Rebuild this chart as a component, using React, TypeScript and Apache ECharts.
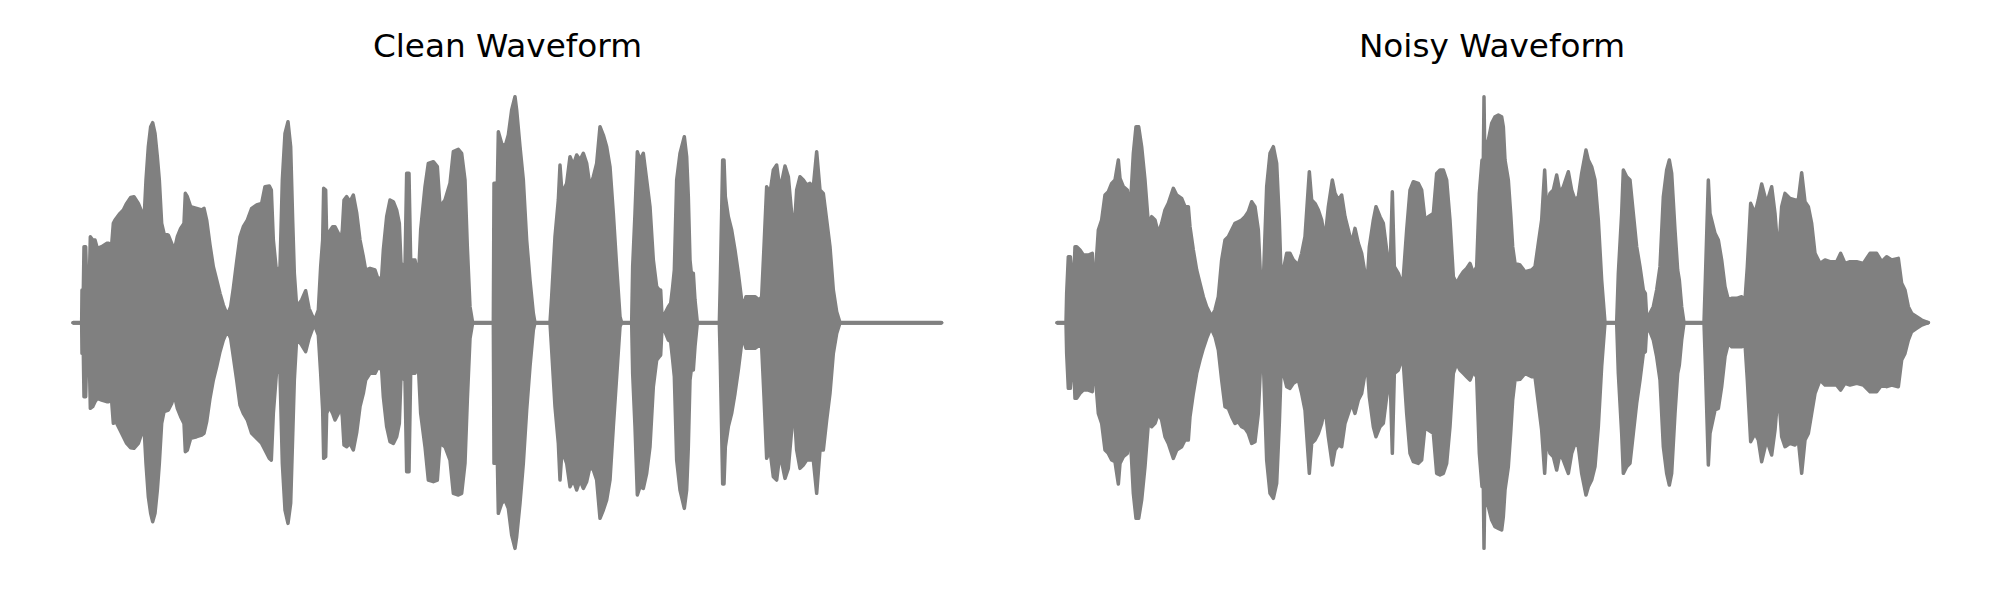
import React, { useEffect, useRef } from "react";
import * as echarts from "echarts";

// Time axis in ms, amplitude in arbitrary units (envelope)
const cleanTime = [
  0, 26, 27, 31, 33, 38, 41, 49, 52, 59,
  66, 73, 86, 101, 107, 109, 112, 121, 126, 141,
  151, 161, 173, 183, 196, 206, 213, 219, 226, 233,
  239, 246, 253, 259, 266, 273, 286, 296, 304, 313,
  323, 333, 337, 343, 353, 371, 386, 393, 401, 411,
  421, 431, 441, 451, 463, 473, 481, 491, 501, 511,
  523, 536, 551, 566, 576, 589, 595, 601, 611, 621,
  628, 636, 645, 653, 659, 664, 671, 686, 698, 708,
  719, 726, 736, 743, 749, 752, 758, 761, 769, 779,
  786, 796, 801, 808, 813, 821, 831, 841, 851, 861,
  871, 878, 891, 906, 916, 926, 931, 941, 951, 961,
  971, 979, 984, 996, 1001, 1008, 1013, 1026, 1036, 1043,
  1056, 1066, 1081, 1093, 1101, 1116, 1131, 1141, 1156, 1166,
  1176, 1183, 1191, 1199, 1261, 1263, 1268, 1271, 1276, 1286,
  1296, 1306, 1316, 1326, 1331, 1341, 1351, 1361, 1371, 1381,
  1386, 1431, 1436, 1446, 1456, 1461, 1467, 1481, 1491, 1501,
  1511, 1521, 1531, 1541, 1551, 1561, 1571, 1581, 1591, 1601,
  1611, 1621, 1631, 1641, 1646, 1676, 1679, 1686, 1693, 1701,
  1711, 1721, 1731, 1741, 1751, 1759, 1763, 1767, 1776, 1786,
  1793, 1799, 1804, 1811, 1821, 1834, 1841, 1846, 1851, 1856,
  1861, 1866, 1873, 1939, 1942, 1949, 1953, 1957, 1966, 1976,
  1986, 1996, 2006, 2011, 2019, 2031, 2046, 2059, 2066, 2073,
  2081, 2091, 2101, 2111, 2121, 2136, 2146, 2156, 2161, 2171,
  2181, 2191, 2201, 2211, 2221, 2231, 2241, 2251, 2261, 2271,
  2281, 2291, 2301, 2606,
];
const cleanTop = [
  0, 0, 98, 98, 228, 228, 118, 128, 258, 248,
  248, 223, 228, 238, 238, 93, 183, 298, 308, 328,
  338, 358, 376, 378, 358, 333, 308, 428, 528, 588,
  600, 568, 498, 428, 298, 268, 263, 238, 218, 258,
  283, 298, 388, 378, 348, 343, 338, 343, 308, 233,
  168, 128, 88, 53, 23, 48, 103, 183, 258, 288,
  308, 343, 353, 358, 408, 410, 398, 248, 148, 168,
  428, 568, 603, 528, 308, 148, 48, 68, 96, 43,
  18, 10, 38, 168, 248, 403, 398, 258, 273, 288,
  288, 268, 228, 278, 368, 378, 363, 383, 330, 248,
  198, 158, 163, 158, 128, 138, 218, 318, 368, 363,
  338, 298, 178, 168, 448, 448, 188, 188, 128, 278,
  408, 478, 483, 468, 348, 368, 418, 513, 520, 508,
  428, 228, 48, 0, 0, 418, 418, 300, 573, 538,
  528, 563, 638, 678, 638, 528, 428, 248, 128, 28,
  0, 0, 78, 258, 368, 473, 388, 418, 498, 473,
  503, 488, 508, 478, 408, 438, 478, 588, 563, 528,
  468, 328, 168, 18, 0, 0, 168, 328, 513, 488,
  508, 428, 348, 188, 108, 98, 98, 18, 28, 48,
  58, 108, 158, 428, 508, 558, 498, 378, 188, 138,
  148, 68, 0, 0, 128, 488, 488, 378, 318, 278,
  218, 148, 68, 48, 78, 78, 78, 68, 78, 228,
  408, 388, 458, 473, 398, 470, 438, 328, 238, 398,
  438, 428, 413, 418, 408, 513, 398, 388, 308, 228,
  98, 33, 0, 0,
];
const cleanBottom = [
  0, 0, -92, -92, -222, -222, -102, -112, -257, -252,
  -237, -227, -232, -237, -237, -92, -182, -302, -292, -322,
  -342, -362, -375, -377, -362, -332, -312, -422, -522, -572,
  -597, -572, -502, -422, -302, -267, -262, -242, -217, -257,
  -282, -302, -387, -382, -347, -342, -337, -332, -297, -227,
  -172, -132, -87, -52, -24, -47, -102, -172, -247, -272,
  -292, -332, -347, -362, -382, -407, -412, -272, -142, -152,
  -422, -562, -602, -542, -342, -172, -47, -67, -87, -47,
  -17, -10, -37, -152, -262, -407, -402, -272, -252, -272,
  -292, -272, -232, -282, -367, -372, -362, -382, -330, -252,
  -212, -172, -152, -152, -132, -142, -222, -312, -357, -362,
  -342, -302, -162, -172, -447, -447, -152, -152, -127, -272,
  -372, -472, -477, -472, -362, -372, -412, -512, -517, -512,
  -422, -232, -47, 0, 0, -422, -422, -300, -572, -542,
  -532, -557, -637, -677, -642, -542, -422, -262, -132, -22,
  0, 0, -82, -252, -362, -472, -382, -422, -492, -472,
  -502, -472, -497, -477, -432, -442, -472, -587, -562, -532,
  -472, -312, -162, -12, 0, 0, -152, -312, -517, -492,
  -497, -452, -372, -192, -112, -102, -97, -17, -27, -52,
  -57, -112, -162, -412, -502, -557, -502, -372, -172, -132,
  -142, -72, 0, 0, -122, -484, -484, -372, -312, -272,
  -212, -142, -62, -47, -77, -77, -77, -67, -72, -222,
  -407, -382, -462, -472, -392, -467, -437, -322, -222, -382,
  -437, -427, -412, -412, -412, -512, -382, -382, -292, -212,
  -92, -32, 0, 0,
];

const noisyTime = [
  0, 27, 29, 34, 40, 44, 49, 54, 59, 69,
  79, 94, 106, 110, 116, 124, 134, 144, 154, 164,
  174, 184, 189, 199, 211, 219, 229, 237, 245, 254,
  264, 274, 284, 294, 304, 314, 324, 334, 349, 359,
  374, 384, 394, 399, 409, 419, 429, 439, 449, 459,
  466, 474, 484, 494, 504, 514, 524, 534, 544, 554,
  564, 574, 584, 594, 604, 611, 619, 629, 639, 649,
  659, 667, 672, 679, 689, 699, 709, 724, 734, 744,
  757, 764, 774, 784, 794, 804, 814, 826, 834, 844,
  854, 864, 874, 884, 894, 904, 914, 924, 931, 937,
  949, 957, 969, 979, 989, 999, 1006, 1012, 1024, 1034,
  1039, 1049, 1059, 1069, 1084, 1094, 1104, 1114, 1129, 1139,
  1149, 1159, 1169, 1179, 1189, 1199, 1209, 1219, 1229, 1239,
  1249, 1259, 1267, 1275, 1279, 1281, 1283, 1289, 1294, 1304,
  1314, 1324, 1334, 1339, 1344, 1354, 1361, 1367, 1374, 1389,
  1404, 1424, 1434, 1444, 1454, 1463, 1469, 1479, 1489, 1499,
  1509, 1519, 1534, 1544, 1554, 1564, 1574, 1587, 1594, 1604,
  1614, 1624, 1634, 1644, 1679, 1684, 1694, 1699, 1709, 1719,
  1729, 1739, 1749, 1759, 1765, 1769, 1779, 1789, 1799, 1809,
  1819, 1829, 1837, 1844, 1854, 1862, 1867, 1874, 1881, 1941,
  1945, 1954, 1959, 1974, 1984, 1994, 2004, 2014, 2024, 2039,
  2054, 2064, 2071, 2081, 2094, 2104, 2114, 2129, 2144, 2154,
  2164, 2174, 2184, 2199, 2214, 2224, 2234, 2244, 2254, 2264,
  2274, 2289, 2304, 2319, 2339, 2351, 2364, 2379, 2399, 2419,
  2439, 2459, 2474, 2489, 2504, 2524, 2534, 2544, 2554, 2564,
  2579, 2594, 2614,
];
const noisyTop = [
  0, 0, 88, 198, 198, 148, 98, 228, 228, 218,
  203, 203, 208, 88, 158, 278, 308, 383, 393, 418,
  428, 488, 433, 408, 398, 328, 508, 588, 588, 528,
  428, 298, 318, 308, 268, 298, 338, 358, 403, 383,
  373, 348, 348, 288, 218, 158, 118, 78, 48, 28,
  23, 38, 78, 188, 248, 258, 278, 298, 303, 308,
  318, 333, 363, 348, 278, 128, 123, 408, 508, 528,
  478, 308, 148, 158, 208, 208, 188, 173, 208, 258,
  453, 368, 358, 338, 308, 248, 348, 428, 388, 368,
  383, 318, 278, 238, 283, 238, 208, 148, 128, 228,
  308, 348, 318, 298, 218, 148, 393, 168, 148, 118,
  138, 278, 398, 423, 418, 398, 308, 318, 328, 448,
  458, 458, 428, 308, 138, 118, 138, 153, 163, 178,
  148, 168, 388, 488, 488, 678, 528, 538, 548, 598,
  618, 623, 618, 588, 488, 428, 328, 228, 178, 173,
  153, 158, 168, 238, 308, 458, 338, 388, 398, 443,
  388, 408, 453, 398, 368, 378, 448, 518, 488, 468,
  428, 308, 128, 0, 0, 148, 328, 458, 438, 428,
  328, 228, 168, 98, 88, 18, 28, 48, 98, 168,
  378, 458, 488, 448, 278, 158, 128, 48, 0, 0,
  128, 428, 328, 268, 248, 188, 108, 68, 73, 73,
  78, 68, 168, 358, 328, 368, 416, 358, 408, 328,
  198, 348, 388, 373, 368, 368, 450, 363, 348, 298,
  208, 178, 188, 183, 183, 208, 178, 183, 183, 178,
  208, 208, 183, 198, 188, 193, 118, 98, 48, 28,
  18, 8, 0,
];
const noisyBottom = [
  0, 0, -92, -197, -197, -142, -92, -227, -227, -212,
  -202, -202, -207, -92, -172, -272, -302, -382, -392, -412,
  -417, -484, -422, -402, -392, -322, -512, -587, -587, -532,
  -432, -302, -312, -302, -272, -292, -342, -362, -407, -382,
  -372, -352, -352, -282, -212, -152, -112, -77, -47, -22,
  -24, -42, -82, -172, -252, -257, -282, -302, -297, -312,
  -317, -332, -362, -357, -272, -122, -117, -412, -512, -527,
  -482, -302, -152, -152, -192, -197, -182, -172, -212, -262,
  -452, -362, -352, -332, -302, -252, -342, -427, -382, -367,
  -372, -302, -272, -242, -272, -232, -212, -152, -132, -222,
  -312, -342, -312, -302, -222, -152, -392, -152, -142, -112,
  -122, -272, -392, -417, -422, -412, -312, -322, -332, -452,
  -457, -452, -422, -312, -152, -122, -142, -152, -162, -172,
  -147, -162, -392, -492, -492, -677, -532, -542, -552, -592,
  -612, -617, -622, -582, -502, -432, -332, -232, -172, -170,
  -152, -162, -162, -242, -322, -452, -342, -392, -402, -442,
  -392, -412, -452, -392, -362, -372, -452, -517, -492, -472,
  -432, -312, -132, 0, 0, -152, -332, -452, -432, -422,
  -332, -242, -172, -92, -87, -17, -27, -52, -102, -172,
  -372, -452, -487, -452, -272, -152, -127, -52, 0, 0,
  -122, -427, -332, -262, -257, -192, -102, -62, -72, -72,
  -72, -62, -172, -357, -332, -352, -417, -352, -397, -322,
  -202, -342, -372, -362, -367, -352, -452, -352, -332, -272,
  -212, -172, -187, -187, -187, -202, -182, -187, -182, -187,
  -207, -207, -187, -192, -187, -192, -112, -92, -52, -27,
  -17, -7, 0,
];

const panelTitles = ["Clean Waveform", "Noisy Waveform"];

const GRAY = "#808080";

export default function App() {
  const ref = useRef<HTMLDivElement>(null);

  useEffect(() => {
    document.body.style.margin = "0";
    const chart = echarts.init(ref.current as HTMLDivElement, null, { renderer: "svg" });

    const pair = (t: number[], v: number[]) => t.map((x, i) => [x, v[i] ?? 0]);
    const centerY = 322.7;
    const yHalf = 700;
    const pxPerUnit = 1 / 3;
    const xMax = 2620;
    const gridLefts = [73, 1057];
    const titleCenters = [507.5, 1492];
    const gridTop = centerY - yHalf * pxPerUnit;
    const gridHeight = 2 * yHalf * pxPerUnit;
    const gridWidth = xMax * pxPerUnit;

    const mk = (gi: number, t: number[], v: number[], origin: number) => ({
      type: "line",
      xAxisIndex: gi,
      yAxisIndex: gi,
      data: pair(t, v),
      symbol: "none",
      showSymbol: false,
      silent: true,
      itemStyle: { color: GRAY },
      lineStyle: { color: GRAY, width: 3.5, cap: "round", join: "round" },
      areaStyle: { color: GRAY, opacity: 1, origin },
    });

    chart.setOption({
      animation: false,
      backgroundColor: "#ffffff",
      grid: gridLefts.map((left) => ({
        left,
        top: gridTop,
        width: gridWidth,
        height: gridHeight,
      })),
      xAxis: gridLefts.map((_, i) => ({
        type: "value",
        gridIndex: i,
        min: 0,
        max: xMax,
        show: false,
      })),
      yAxis: gridLefts.map((_, i) => ({
        type: "value",
        gridIndex: i,
        min: -yHalf,
        max: yHalf,
        show: false,
      })),
      graphic: panelTitles.map((text, i) => ({
        type: "text",
        x: titleCenters[i],
        y: 45.5,
        style: {
          text,
          font: '32.7px "DejaVu Sans"',
          fill: "#000000",
          textAlign: "center",
          textVerticalAlign: "middle",
          align: "center",
          verticalAlign: "middle",
        },
      })),
      series: [
        mk(0, cleanTime, cleanTop, -6),
        mk(0, cleanTime, cleanBottom, 6),
        mk(1, noisyTime, noisyTop, -6),
        mk(1, noisyTime, noisyBottom, 6),
      ],
    });

    return () => chart.dispose();
  }, []);

  return <div ref={ref} style={{ width: 2000, height: 600 }} />;
}
